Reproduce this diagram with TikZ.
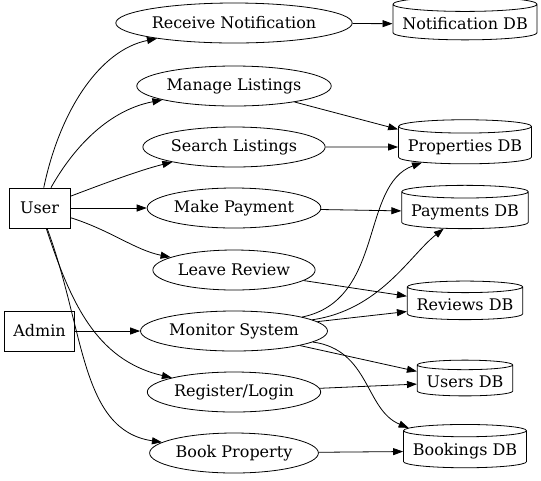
\documentclass[tikz,border=0pt]{standalone}
\usepackage{fontspec}
\setmainfont{DejaVu Serif}
\usetikzlibrary{shapes.geometric,arrows.meta}
\begin{document}
\begin{tikzpicture}[x=0.75pt,y=0.75pt,yscale=-1,xscale=1,
	every node/.style={font=\fontsize{12}{14}\selectfont, line width=0.6pt},
	actor/.style={draw, rectangle, minimum width=45.75pt, minimum height=30pt, inner xsep=6.75pt},
	usecase/.style={draw, ellipse, minimum height=30pt, inner xsep=1pt, inner ysep=1pt},
	dbase/.style={draw, cylinder, shape border rotate=90, aspect=0.1, inner xsep=7pt, inner ysep=4.5pt},
	link/.style={-{Triangle[length=7.5pt,width=5.25pt]}, line width=0.6pt}]
	\useasboundingbox (0,0) rectangle (541,480);
	
	% Actors
	\node [actor] (user) at (39.5,208) {User};
	\node [actor] (admin) at (39.5,331) {Admin};
	
	% Use cases
	\node [usecase] (recv) at (234,23) {Receive Notification};
	\node [usecase] (manage) at (234,86) {Manage Listings};
	\node [usecase] (search) at (234,147) {Search Listings};
	\node [usecase] (pay) at (234,208) {Make Payment};
	\node [usecase] (review) at (234,270) {Leave Review};
	\node [usecase] (monitor) at (234,331) {Monitor System};
	\node [usecase] (reg) at (234,392) {Register/Login};
	\node [usecase] (book) at (234,453) {Book Property};
	
	% Databases
	\node [dbase] (notifdb) at (465,24) {Notification DB};
	\node [dbase] (propdb) at (465,147) {Properties DB};
	\node [dbase] (paydb) at (465,212) {Payments DB};
	\node [dbase] (reviewdb) at (465,305) {Reviews DB};
	\node [dbase] (usersdb) at (465,382) {Users DB};
	\node [dbase] (bookdb) at (465,451) {Bookings DB};
	
	% User edges
	\draw [link] (user) .. controls (60,110) and (100,50) .. (recv);
	\draw [link] (user) .. controls (75,145) and (110,110) .. (manage);
	\draw [link] (user) .. controls (100,185) and (140,170) .. (search);
	\draw [link] (user) -- (pay);
	\draw [link] (user) .. controls (110,230) and (135,250) .. (review);
	\draw [link] (user) .. controls (70,300) and (95,360) .. (reg);
	\draw [link] (user) .. controls (85,330) and (80,430) .. (book);
	
	% Admin edge
	\draw [link] (admin) -- (monitor);
	
	% Use case to database edges
	\draw [link] (recv) -- (notifdb);
	\draw [link] (manage) -- (propdb);
	\draw [link] (search) -- (propdb);
	\draw [link] (pay) -- (paydb);
	\draw [link] (review) -- (reviewdb);
	\draw [link] (monitor) .. controls (385,300) and (360,185) .. (propdb);
	\draw [link] (monitor) .. controls (380,310) and (410,255) .. (paydb);
	\draw [link] (monitor) -- (reviewdb);
	\draw [link] (monitor) -- (usersdb);
	\draw [link] (monitor) .. controls (370,350) and (365,410) .. (bookdb);
	\draw [link] (reg) -- (usersdb);
	\draw [link] (book) -- (bookdb);
	
\end{tikzpicture}
\end{document}
